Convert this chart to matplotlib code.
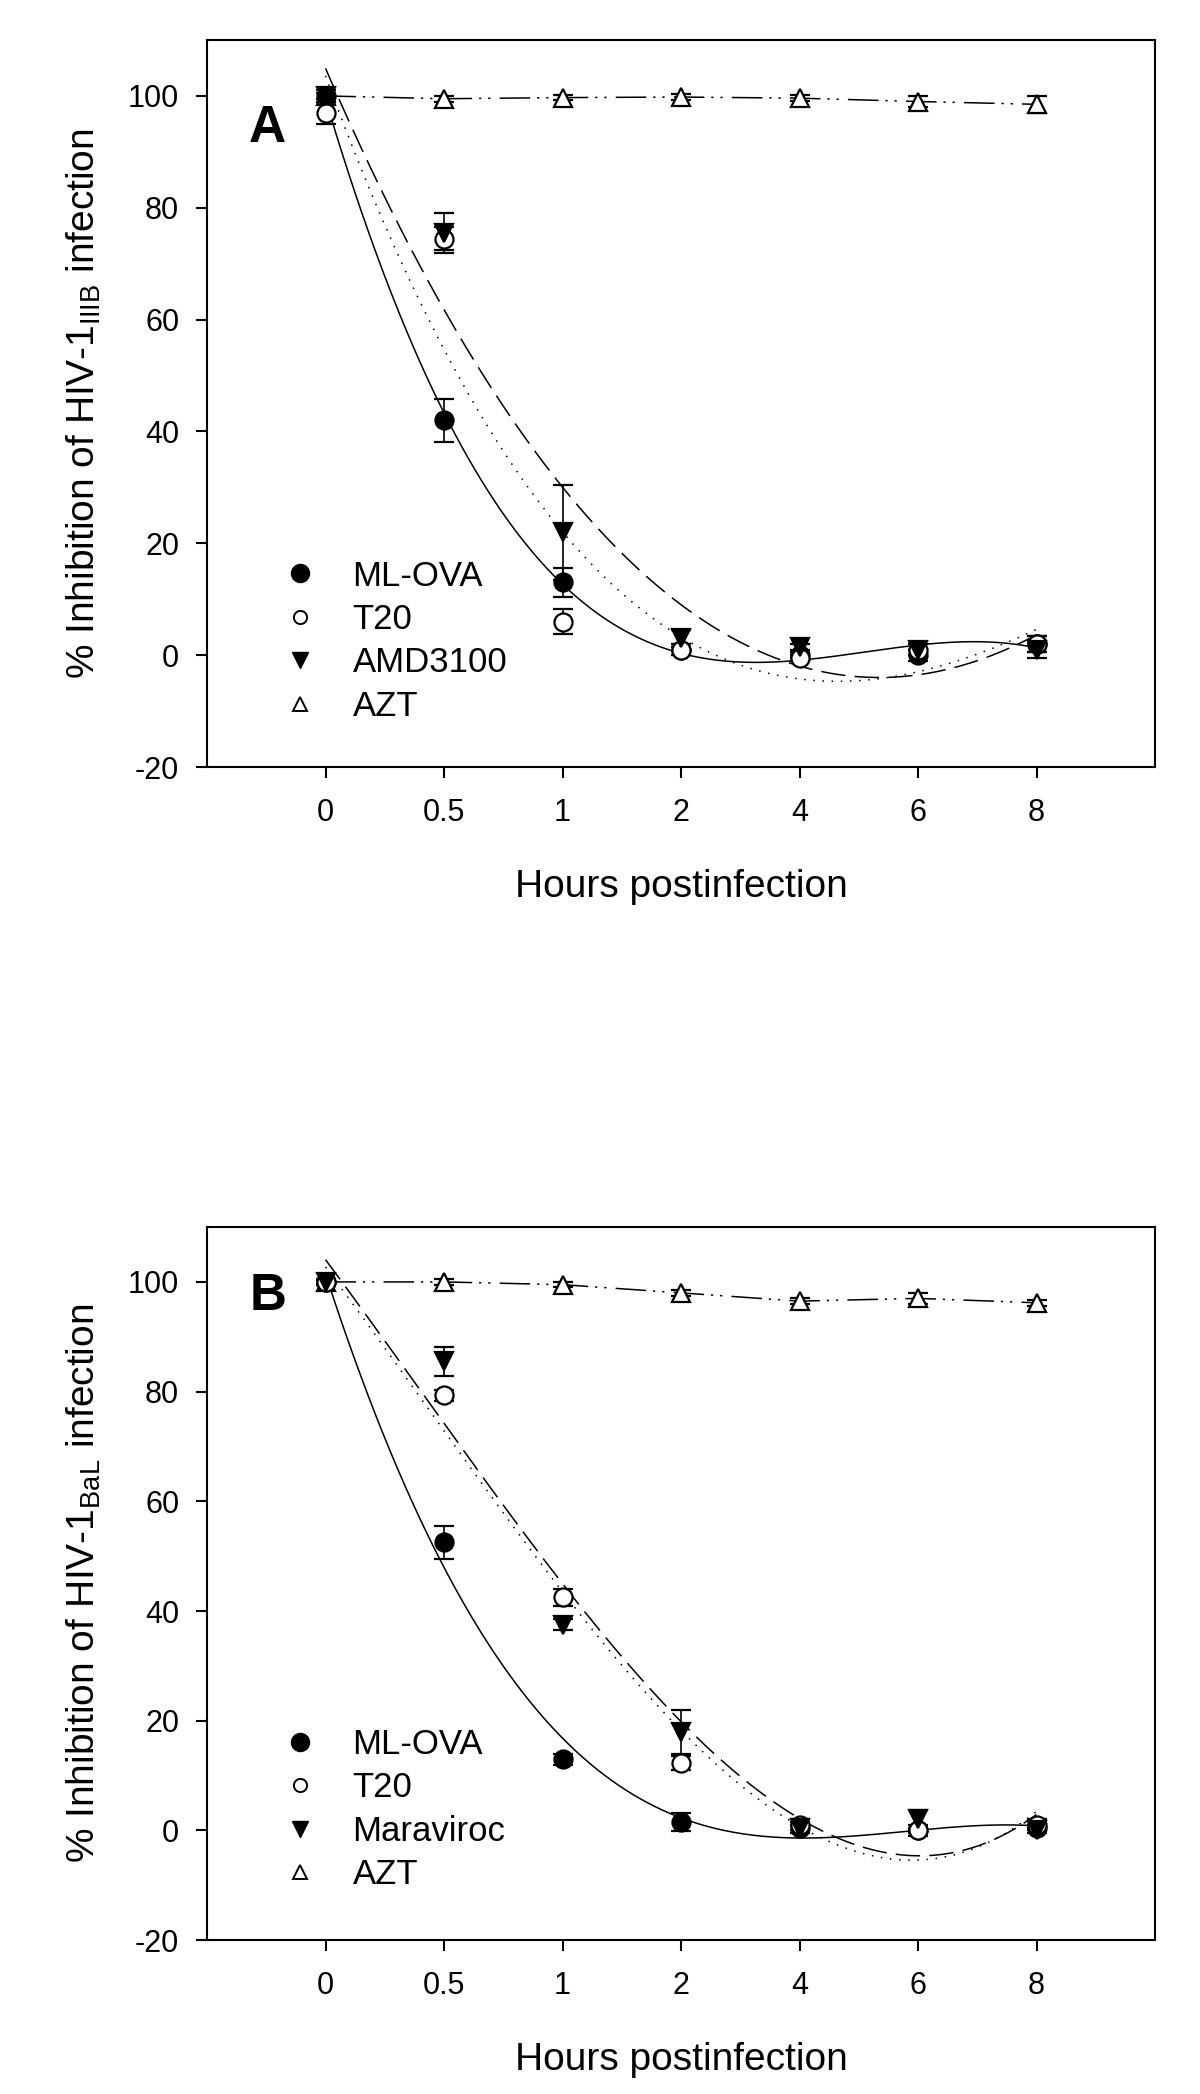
import matplotlib
matplotlib.use("Agg")
import matplotlib.pyplot as plt
from matplotlib.lines import Line2D
import numpy as np

plt.rcParams["font.family"] = ["Liberation Sans", "DejaVu Sans"]
plt.rcParams["mathtext.fontset"] = "custom"
plt.rcParams["mathtext.rm"] = "Liberation Sans"
plt.rcParams["axes.unicode_minus"] = False

hours = ["0", "0.5", "1", "2", "4", "6", "8"]

# panel A - HIV-1 IIIB
mlova_a = [100, 42, 13, 1, 0, 0, 2]
mlova_a_err = [1, 3.8, 2.6, 1, 0.5, 1, 1.5]
t20_a = [97, 74.5, 6, 1, -0.5, 1, 2]
t20_a_err = [2, 2, 2.2, 1, 0.5, 1, 1.5]
amd_a = [100, 75.5, 22, 3, 1.5, 1, 1]
amd_a_err = [1, 3.5, 8.5, 1.5, 0.5, 1, 1.5]
azt_a = [100, 99.5, 99.7, 99.8, 99.6, 99, 98.5]
azt_a_err = [0.5, 0.5, 0.5, 0.5, 0.5, 1, 1.5]

# panel B - HIV-1 BaL
mlova_b = [100, 52.5, 13, 1.5, 0.5, 0, 0.5]
mlova_b_err = [0.5, 3, 1, 1.7, 1, 0.5, 0.5]
t20_b = [100, 79.3, 42.5, 12.3, 1, 0, 1]
t20_b_err = [0.5, 1, 1.5, 1.2, 1, 1, 1]
mvc_b = [100, 85.5, 37.5, 18, 0.5, 2, 0]
mvc_b_err = [0.5, 2.6, 1, 4, 0.5, 1.8, 0.5]
azt_b = [100, 100, 99.5, 98, 96.5, 97, 96.2]
azt_b_err = [0.3, 0.5, 0.5, 0.5, 0.5, 1, 0.5]

x = np.arange(len(hours))
xs = np.linspace(0, len(hours) - 1, 300)

dashdotdot = (0, (20, 4.5, 1.5, 4.5, 1.5, 6))
dashed = (0, (16, 6))
dotted = (0, (1, 5))


def draw_series(ax, y, err, marker, face, ls, fit=True):
    y = np.array(y, dtype=float)
    ax.errorbar(x, y, yerr=err, fmt="none", ecolor="black", elinewidth=1.2,
                capsize=7.5, capthick=1.6, zorder=2)
    if fit:
        c = np.polyfit(x, y, 3)
        ax.plot(xs, np.polyval(c, xs), color="black", lw=1.1, linestyle=ls, zorder=1)
    else:
        ax.plot(x, y, color="black", lw=1.1, linestyle=ls, zorder=1)
    ax.plot(x, y, linestyle="none", marker=marker, markersize=13,
            markerfacecolor=face, markeredgecolor="black", markeredgewidth=1.6, zorder=3)


def style_axes(ax, sub, letter, names, legend_y):
    ax.set_xlim(-1, len(hours))
    ax.set_ylim(-20, 110)
    ax.set_xticks(x)
    ax.set_xticklabels(hours)
    ax.set_yticks([-20, 0, 20, 40, 60, 80, 100])
    for s in ax.spines.values():
        s.set_linewidth(1.5)
    ax.tick_params(axis="both", direction="out", length=8, width=1.5, labelsize=22)
    ax.tick_params(axis="y", pad=12)
    ax.tick_params(axis="x", pad=14)
    ax.set_xlabel("Hours postinfection", fontsize=28, labelpad=30)
    ax.set_ylabel("% Inhibition of HIV-1$_{\\mathregular{" + sub + "}}$ infection",
                  fontsize=28, labelpad=18)
    ax.text(0.064, legend_y[1], letter, transform=ax.transAxes, fontsize=37,
            fontweight="bold", ha="center", va="center")
    handles = [
        Line2D([], [], ls="none", marker="o", markersize=13, mfc="black", mec="black"),
        Line2D([], [], ls="none", marker="o", markersize=9.5, mfc="white", mec="black", mew=1.4),
        Line2D([], [], ls="none", marker="v", markersize=12, mfc="black", mec="black"),
        Line2D([], [], ls="none", marker="^", markersize=10.5, mfc="white", mec="black", mew=1.4),
    ]
    ax.legend(handles, names, loc="center left", bbox_to_anchor=(0.082, legend_y[0]),
              frameon=False, fontsize=25, handlelength=0.9, handletextpad=1.05,
              labelspacing=0.3, borderpad=0, borderaxespad=0)


fig = plt.figure(figsize=(12, 20.94), dpi=100)
ax1 = fig.add_axes([0.1725, 0.6337, 0.79, 0.3472])
ax2 = fig.add_axes([0.1725, 0.0735, 0.79, 0.3405])

draw_series(ax1, azt_a, azt_a_err, "^", "white", dashdotdot, fit=False)
draw_series(ax1, mlova_a, mlova_a_err, "o", "black", "-")
draw_series(ax1, t20_a, t20_a_err, "o", "white", dotted)
draw_series(ax1, amd_a, amd_a_err, "v", "black", dashed)
style_axes(ax1, "IIIB", "A", ["ML-OVA", "T20", "AMD3100", "AZT"], (0.173, 0.878))

draw_series(ax2, azt_b, azt_b_err, "^", "white", dashdotdot, fit=False)
draw_series(ax2, mlova_b, mlova_b_err, "o", "black", "-")
draw_series(ax2, t20_b, t20_b_err, "o", "white", dotted)
draw_series(ax2, mvc_b, mvc_b_err, "v", "black", dashed)
style_axes(ax2, "BaL", "B", ["ML-OVA", "T20", "Maraviroc", "AZT"], (0.183, 0.903))

fig.savefig("out.png", dpi=100)
